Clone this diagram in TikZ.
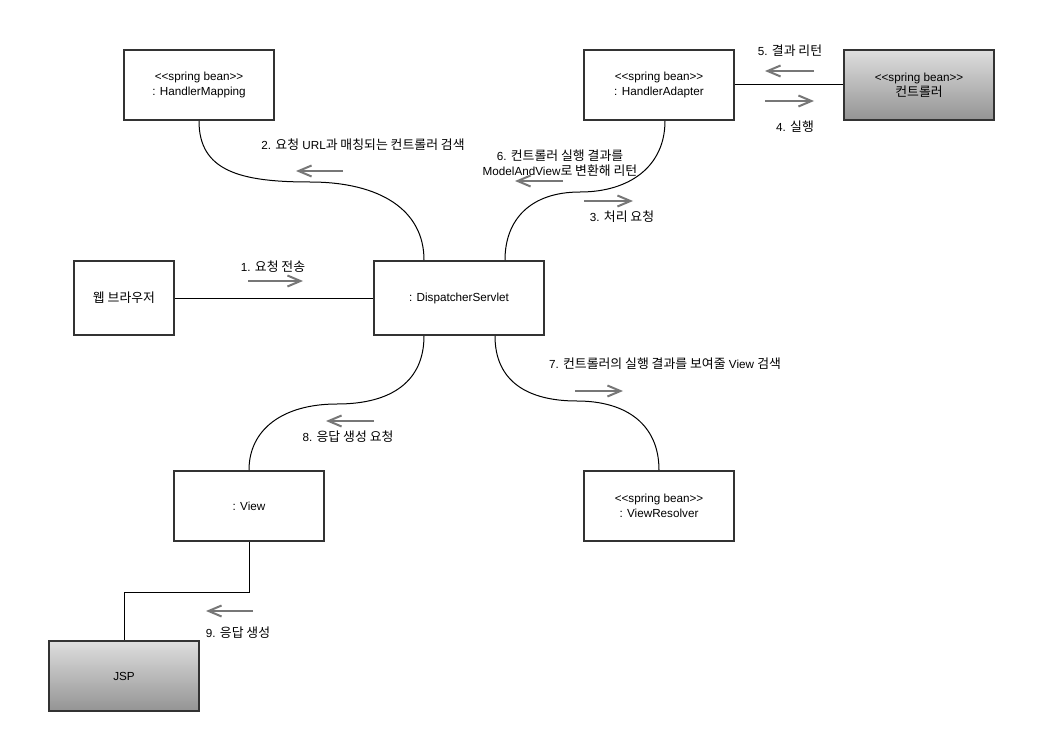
\documentclass[tikz,border=0pt]{standalone}
\usepackage{fontspec}
\setmainfont{Liberation Sans}
\newfontfamily\hangulfont[Scale=1.1]{Noto Sans CJK KR}
\usetikzlibrary{arrows.meta}
\newcommand{\hg}[1]{{\hangulfont #1}}
\newcommand{\stereo}{<\kern0pt<spring bean>\kern0pt>}
\definecolor{boxline}{HTML}{333333}
\definecolor{msgline}{HTML}{777777}
\tikzstyle{bean}=[draw=boxline,line width=2pt,fill=white,minimum width=150pt,minimum height=70pt,inner sep=0pt,align=center]
\tikzstyle{shaded bean}=[bean,top color=black!13,bottom color=black!42]
\tikzstyle{msg}=[draw=msgline,line width=2pt,-{Straight Barb[length=13pt,width=11pt]}]

\begin{document}
\begin{tikzpicture}[x=1pt,y=-1pt,
every node/.style={font=\fontsize{11.7}{15}\selectfont},
link/.style={draw=black,line width=1pt},
note/.style={align=center,inner sep=0pt}]
\useasboundingbox (0,0) rectangle (1037,752);

% objects
\node [bean] (mapping) at (199,85) {\stereo\\: HandlerMapping};
\node [bean] (adapter) at (659,85) {\stereo\\: HandlerAdapter};
\node [shaded bean] (controller) at (919,85) {\stereo\\\hg{컨트롤러}};
\node [bean,minimum width=100pt,minimum height=74pt] (browser) at (124,298) {\hg{웹 브라우저}};
\node [bean,minimum width=170pt,minimum height=74pt] (dispatcher) at (459,298) {: DispatcherServlet};
\node [bean] (view) at (249,506) {: View};
\node [bean] (resolver) at (659,506) {\stereo\\: ViewResolver};
\node [shaded bean] (jsp) at (124,676) {JSP};

% waypoints of the curved links
\coordinate (mapmid) at (310,182);
\coordinate (adamid) at (580,192);
\coordinate (resmid) at (577,401);
\coordinate (viewmid) at (337,404);

% links
\draw [link] (browser.east) -- (dispatcher.west);
\draw [link] (adapter.east) -- (controller.west);
\draw [link] (mapping.south) .. controls +(0,50) and +(-70,0) .. (mapmid)
    .. controls +(70,0) and +(0,-50) .. ([xshift=-35pt]dispatcher.north);
\draw [link] ([xshift=6pt]adapter.south) .. controls +(0,45) and +(50,0) .. (adamid)
    .. controls +(-50,0) and +(0,-40) .. ([xshift=46pt]dispatcher.north);
\draw [link] ([xshift=36pt]dispatcher.south) .. controls +(0,45) and +(-50,0) .. (resmid)
    .. controls +(50,0) and +(0,-45) .. (resolver.north);
\draw [link] ([xshift=-35pt]dispatcher.south) .. controls +(0,45) and +(55,0) .. (viewmid)
    .. controls +(-55,0) and +(0,-40) .. (view.north);
\draw [link] (view.south) -- ++(0,50) -| (jsp.north);

% messages
\node [note] (m1) at (273,267) {1. \hg{요청 전송}};
\draw [msg] (248,281) -- (303,281);
\node [note] (m2) at (363,145) {2. \hg{요청} URL\hg{과 매칭되는 컨트롤러 검색}};
\draw [msg] (343,171) -- (296,171);
\node [note] (m3) at (622,217) {3. \hg{처리 요청}};
\draw [msg] (584,201) -- (633,201);
\node [note] (m4) at (795,127) {4. \hg{실행}};
\draw [msg] (765,101) -- (814,101);
\node [note] (m5) at (790,51) {5. \hg{결과 리턴}};
\draw [msg] (814,71) -- (765,71);
\node [note] (m6) at (560,163) {6. \hg{컨트롤러 실행 결과를}\\ModelAndView\hg{로 변환해 리턴}};
\draw [msg] (563,181) -- (515,181);
\node [note] (m7) at (665,364) {7. \hg{컨트롤러의 실행 결과를 보여줄} View \hg{검색}};
\draw [msg] (575,391) -- (623,391);
\node [note] (m8) at (348,437) {8. \hg{응답 생성 요청}};
\draw [msg] (374,421) -- (326,421);
\node [note] (m9) at (238,633) {9. \hg{응답 생성}};
\draw [msg] (253,611) -- (206,611);
\end{tikzpicture}
\end{document}
